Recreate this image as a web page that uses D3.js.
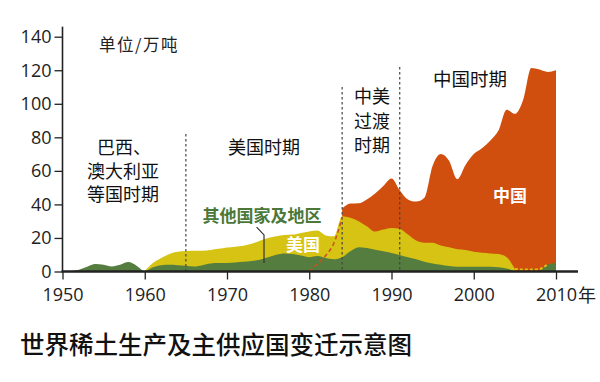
<!DOCTYPE html>
<html><head><meta charset="utf-8">
<script src="https://cdn.jsdelivr.net/npm/d3@7"></script>
<style>
html,body{margin:0;padding:0;background:#fff;}
svg{display:block;}
</style></head>
<body><svg id="c" width="600" height="382"></svg>
<script>
// ---- data (万吨) ----
const years = d3.range(1950, 2011);
const otherVals = [0,0.3,1,2.8,4.4,4,3,4,5.6,3.5,
  0.3,2.5,3.8,4,3.8,3.5,3,3.8,4.8,5,
  5.1,5.4,5.8,6.3,7,8.5,10,10.8,10.5,9.5,
  8.5,9.2,8,7.3,8.5,12,14.4,14,13,12,
  11,9.9,8.5,7.3,5.8,4.8,4,3.3,2.9,2.8,
  2.8,2.8,2.9,2.5,1.8,0.3,0,0,0.5,4,
  5];
const usaVals = [0,0,0,0,0,0,0,0,0,0,
  0,2.5,4.2,6.5,8,8.7,9.4,8.5,8,8.5,
  9.2,9.4,9.6,10.2,11.4,11.5,11,11,11.5,13.5,
  15.3,15.2,13.5,13.7,24.5,20,15.6,13,10.8,13,
  15,15.6,13.5,11.2,11.4,12.4,11.5,11.1,10.3,10,
  9,8.4,7.9,7.9,6.7,1.2,1.2,1.2,1.0,0.5,
  0];
const chinaVals = [0,0,0,0,0,0,0,0,0,0,
  0,0,0,0,0,0,0,0,0,0,
  0,0,0,0,0,0,0,0,0,0,
  0,0,0,0,4.5,8.5,10.7,16,22.7,26,
  29.5,23,21,23.2,26.8,45.8,54.5,51.6,41.8,50.7,
  58.2,62.3,67.2,73.6,88,92.5,101.1,120.1,118.9,114.5,
  115];
const chinaEarlyYears = [1980,1981,1982,1983,1984];
const chinaEarlyVals = [0,4.6,9.5,17,32];
const usaSolidEnd = 2005;   // after this US shown as dashed line
const chinaStart = 1984;
const xTicks = [1950,1960,1970,1980,1990,2000,2010];
const yTicks = [0,20,40,60,80,100,120,140];
const periodLines = [1965,1984,1991];
const periodTops = [82,110,122];

const colGreen = "#557d3f", colYellow = "#d6c313", colOrange = "#d04f0e";
const FONT = "'Noto Sans CJK SC','Noto Sans',sans-serif";

const data = years.map((yr,i)=>({yr, o:otherVals[i], u:usaVals[i], c:chinaVals[i]}));

const svg = d3.select("#c");
const x = d3.scaleLinear().domain([1950,2010]).range([62.5,556]);
const y = d3.scaleLinear().domain([0,140]).range([271.5,36.7]);
const curve = d3.curveMonotoneX;

// China area (from axis to total)
svg.append("path").datum(data.filter(d=>d.yr>=chinaStart))
  .attr("fill",colOrange)
  .attr("d", d3.area().curve(curve).x(d=>x(d.yr)).y0(y(0)).y1(d=>y(d.o+d.u+d.c)));
// USA area
svg.append("path").datum(data.filter(d=>d.yr>=1960 && d.yr<=usaSolidEnd))
  .attr("fill",colYellow)
  .attr("d", d3.area().curve(curve).x(d=>x(d.yr)).y0(y(0)).y1(d=>y(d.o+d.u)));
// Other area
svg.append("path").datum(data)
  .attr("fill",colGreen)
  .attr("d", d3.area().curve(curve).x(d=>x(d.yr)).y0(y(0)).y1(d=>y(d.o)));

// period dotted lines
periodLines.forEach((p,i)=>{
  svg.append("line").attr("x1",x(p)).attr("x2",x(p))
    .attr("y1",y(periodTops[i])).attr("y2",y(0))
    .attr("stroke","#444").attr("stroke-width",1.2).attr("stroke-dasharray","2.5,2.5");
});

// China early dashed
svg.append("path").datum(chinaEarlyYears.map((yr,i)=>({yr,v:chinaEarlyVals[i]})))
  .attr("fill","none").attr("stroke","#c9531c").attr("stroke-width",1.6)
  .attr("stroke-dasharray","4,3")
  .attr("d", d3.line().curve(curve).x(d=>x(d.yr)).y(d=>y(d.v)));

// US dashed after usaSolidEnd
svg.append("path").datum(data.filter(d=>d.yr>=usaSolidEnd && d.yr<=2009))
  .attr("fill","none").attr("stroke",colYellow).attr("stroke-width",2)
  .attr("stroke-dasharray","3,2")
  .attr("d", d3.line().curve(curve).x(d=>x(d.yr)).y(d=>y(d.o+d.u)));

// axes
const yAxis = d3.axisLeft(y).tickValues(yTicks).tickSize(8).tickPadding(3);
const gy = svg.append("g").attr("transform",`translate(${x(1950)},0)`).call(yAxis);
gy.select(".domain").remove();
gy.append("line").attr("x1",0).attr("x2",0).attr("y1",y(146)).attr("y2",y(0))
  .attr("stroke","#222").attr("stroke-width",1.6);
gy.selectAll(".tick line").attr("stroke","#222").attr("stroke-width",1.3);
gy.selectAll(".tick text").attr("font-family","'Open Sans',sans-serif").attr("font-size",18).attr("fill","#222");

const xAxis = d3.axisBottom(x).tickValues(xTicks).tickFormat(d3.format("d")).tickSize(8).tickPadding(9);
const gx = svg.append("g").attr("transform",`translate(0,${y(0)})`).call(xAxis);
gx.select(".domain").remove();
gx.append("line").attr("x1",x(1950)-1).attr("x2",578).attr("y1",0).attr("y2",0)
  .attr("stroke","#222").attr("stroke-width",2.4);
gx.selectAll(".tick line").attr("stroke","#222").attr("stroke-width",1.3);
gx.selectAll(".tick text").attr("font-family","'Open Sans',sans-serif").attr("font-size",18).attr("fill","#222");
svg.append("text").attr("x",x(2010)+22).attr("y",y(0)+30)
  .attr("font-family",FONT).attr("font-size",18).attr("fill","#222").text("年");

// labels
function label(txt, cx, cy, size, color, weight, ls){
  svg.append("text").attr("x",cx).attr("y",cy).attr("dy","0.36em")
    .attr("text-anchor","middle").attr("font-family",FONT)
    .attr("letter-spacing",ls||0)
    .attr("font-size",size).attr("font-weight",weight||400).attr("fill",color).text(txt);
}
label("单位/万吨",139,45,16.5,"#222",400,1.5);
label("巴西、",124,148,18,"#111");
label("澳大利亚",123,171.5,18,"#111");
label("等国时期",123,195,18,"#111");
label("美国时期",264,148,18,"#111");
label("中美",372,97,18,"#111");
label("过渡",372,121.5,18,"#111");
label("时期",372,146,18,"#111");
label("中国时期",470,79,18.5,"#111");
label("其他国家及地区",262,215.5,17,"#4b7838",700);
label("美国",303,245,17,"#fff",700);
label("中国",510,195.5,17,"#fff",700);

// leader line
svg.append("path").attr("fill","none").attr("stroke","#333").attr("stroke-width",1.2)
  .attr("d", d3.line()([[x(1973.6),y(26.5)],[x(1974.5),y(21.8)],[x(1974.5),y(5)]]));

// title
svg.append("text").attr("x",20).attr("y",345).attr("dy","0.36em")
  .attr("font-family",FONT).attr("font-size",24.5).attr("font-weight",500).attr("fill","#111")
  .text("世界稀土生产及主供应国变迁示意图");
</script></body></html>
